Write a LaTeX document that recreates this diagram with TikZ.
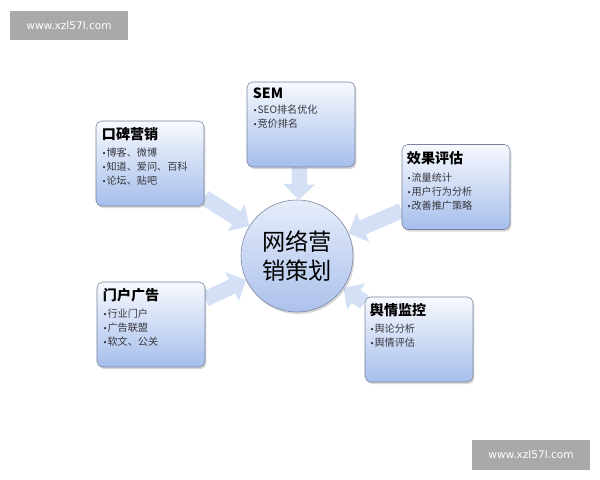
\documentclass[tikz,border=0pt]{standalone}
\usepackage{fontspec}
\setmainfont{Noto Sans CJK SC}
\newfontfamily\wmfont{DejaVu Sans}
\usetikzlibrary{arrows.meta, calc, positioning, shadows, backgrounds}
\definecolor{boxtop}{RGB}{247,249,254}
\definecolor{boxbot}{RGB}{166,190,236}
\definecolor{boxline}{RGB}{120,132,156}
\definecolor{hubtop}{RGB}{230,237,250}
\definecolor{hubbot}{RGB}{172,193,236}
\definecolor{arrowblue}{RGB}{212,224,245}
\definecolor{wmgray}{RGB}{169,169,169}
\definecolor{itemgray}{RGB}{55,55,60}
\newcommand{\itembul}{{\wmfont\fontsize{5.5}{6}\selectfont •}}
\tikzset{
  topicbox/.style = {draw=boxline, rounded corners=4pt, top color=boxtop, bottom color=boxbot,
    minimum width=2.7cm, minimum height=2.125cm, inner sep=0pt,
    drop shadow={shadow xshift=1pt, shadow yshift=-1.5pt, opacity=0.3}},
  hub/.style = {circle, draw=boxline, top color=hubtop, bottom color=hubbot, minimum size=2.8cm,
    inner sep=0pt, align=center, font=\fontsize{16.5}{20}\selectfont,
    drop shadow={shadow xshift=1pt, shadow yshift=-1.5pt, opacity=0.3}},
  boxtitle/.style = {anchor=north west, inner sep=0pt, font=\fontsize{10}{12}\selectfont\bfseries},
  boxitems/.style = {inner sep=0pt, align=left, text=itemgray, font=\fontsize{7.2}{10}\selectfont},
  feed/.style = {draw=arrowblue, line width=11pt, -{Triangle[width=22pt, length=11pt]}},
  wmark/.style = {fill=wmgray, text=white, minimum width=2.95cm, minimum height=0.74cm,
    inner sep=0pt, font=\wmfont\fontsize{7.5}{9}\selectfont}
}

\begin{document}
\begin{tikzpicture}[x=0.025cm, y=0.025cm]
\useasboundingbox (0,0) rectangle (600,480);
% watermarks
\node[wmark] (wmA) at (69,454.5) {www.xzl57l.com};
\node[wmark] (wmB) at (531,25) {www.xzl57l.com};
% centre
\node[hub] (net) at (297,224) {网络营\\销策划};
% boxes
\node[topicbox] (koubei) at (150,316.5) {};
\node[topicbox] (sem) at (301,355.5) {};
\node[topicbox] (xiaoguo) at (456,293) {};
\node[topicbox] (menhu) at (151,155.5) {};
\node[topicbox] (yuqing) at (419,140.5) {};
% titles
\node[boxtitle] (koubeiT) at ($(koubei.north west)+(6,-6)$) {口碑营销};
\node[boxtitle] (semT) at ($(sem.north west)+(6,-6)$) {SEM};
\node[boxtitle] (xiaoguoT) at ($(xiaoguo.north west)+(5,-7)$) {效果评估};
\node[boxtitle] (menhuT) at ($(menhu.north west)+(6,-6)$) {门户广告};
\node[boxtitle] (yuqingT) at ($(yuqing.north west)+(5,-6)$) {舆情监控};
% lists
\node[boxitems, below right=5pt and 0pt of koubeiT.south west] (koubeiL) {\itembul 博客、微博\\\itembul 知道、爱问、百科\\\itembul 论坛、贴吧};
\node[boxitems, below right=4pt and 0pt of semT.south west] (semL) {\itembul SEO排名优化\\\itembul 竞价排名};
\node[boxitems, below right=5pt and 0pt of xiaoguoT.south west] (xiaoguoL) {\itembul 流量统计\\\itembul 用户行为分析\\\itembul 改善推广策略};
\node[boxitems, below right=5pt and 0pt of menhuT.south west] (menhuL) {\itembul 行业门户\\\itembul 广告联盟\\\itembul 软文、公关};
\node[boxitems, below right=5pt and 0pt of yuqingT.south west] (yuqingL) {\itembul 舆论分析\\\itembul 舆情评估};
% arrows
\begin{scope}[on background layer]
\draw[feed] (koubei) -- (net);
\draw[feed] (sem) -- (net);
\draw[feed] (xiaoguo) -- (net);
\draw[feed] (menhu) -- (net);
\draw[feed] (yuqing) -- (net);
\end{scope}
\end{tikzpicture}
\end{document}
